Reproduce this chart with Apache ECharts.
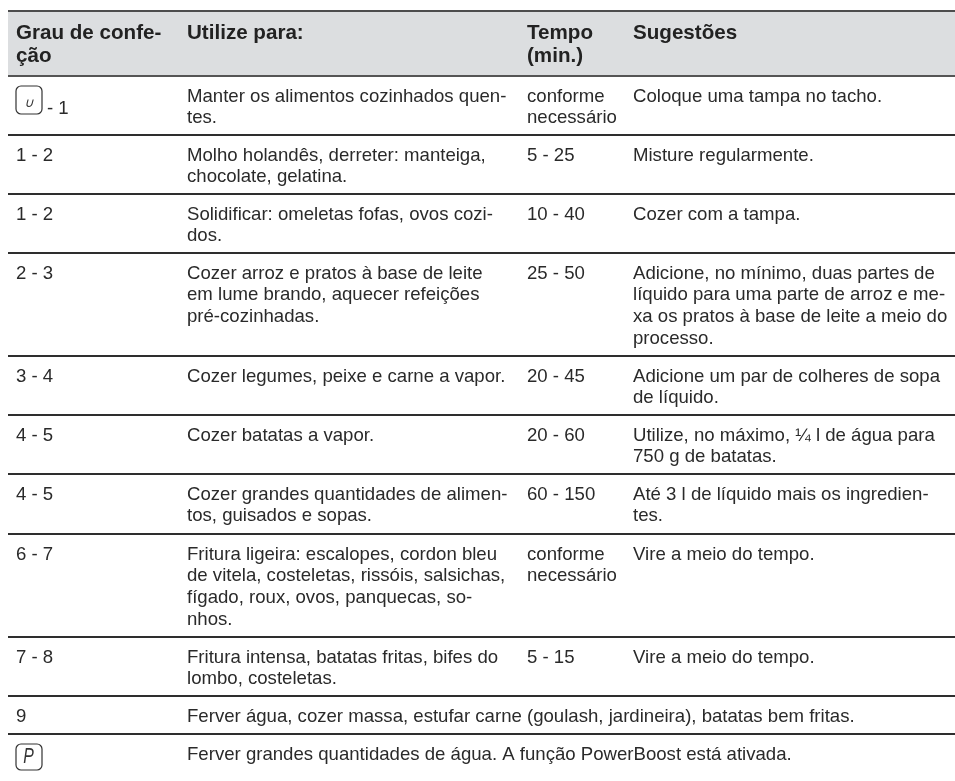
<!DOCTYPE html>
<html><head><meta charset="utf-8"><style>html,body{margin:0;padding:0;background:#fff}#c{width:955px;height:781px}</style>
<script src="https://cdn.jsdelivr.net/npm/echarts@6/dist/echarts.min.js"></script></head>
<body><div id="c"></div><script>
const headers = [["Grau de confe-","ção"],["Utilize para:"],["Tempo","(min.)"],["Sugestões"]];
const levels = [["- 1"],["1 - 2"],["1 - 2"],["2 - 3"],["3 - 4"],["4 - 5"],["4 - 5"],["6 - 7"],["7 - 8"],["9"],[""]];
const levelIcons = ["u","","","","","","","","","","P"];
const uses = [
 ["Manter os alimentos cozinhados quen-","tes."],
 ["Molho holandês, derreter: manteiga,","chocolate, gelatina."],
 ["Solidificar: omeletas fofas, ovos cozi-","dos."],
 ["Cozer arroz e pratos à base de leite","em lume brando, aquecer refeições","pré-cozinhadas."],
 ["Cozer legumes, peixe e carne a vapor."],
 ["Cozer batatas a vapor."],
 ["Cozer grandes quantidades de alimen-","tos, guisados e sopas."],
 ["Fritura ligeira: escalopes, cordon bleu","de vitela, costeletas, rissóis, salsichas,","fígado, roux, ovos, panquecas, so-","nhos."],
 ["Fritura intensa, batatas fritas, bifes do","lombo, costeletas."],
 ["Ferver água, cozer massa, estufar carne (goulash, jardineira), batatas bem fritas."],
 ["Ferver grandes quantidades de água. A função PowerBoost está ativada."]
];
const times = [["conforme","necessário"],["5 - 25"],["10 - 40"],["25 - 50"],["20 - 45"],["20 - 60"],["60 - 150"],["conforme","necessário"],["5 - 15"],[],[]];
const tips = [
 ["Coloque uma tampa no tacho."],["Misture regularmente."],["Cozer com a tampa."],
 ["Adicione, no mínimo, duas partes de","líquido para uma parte de arroz e me-","xa os pratos à base de leite a meio do","processo."],
 ["Adicione um par de colheres de sopa","de líquido."],
 ["Utilize, no máximo, ¼ l de água para","750 g de batatas."],
 ["Até 3 l de líquido mais os ingredien-","tes."],
 ["Vire a meio do tempo."],["Vire a meio do tempo."],[],[]
];
const FONT='"Liberation Sans",Arial,sans-serif';
const ruleYs=[76,135,194,253,356,415,474,534,637,696,734];
const colX=[16,187,527,633];
const LINE=21.7, FS=18.6, HFS=20.6;
const rows=[{h:true,cells:headers,top:11}];
levels.forEach((l,i)=>rows.push({h:false,cells:[l,uses[i],times[i],tips[i]],icon:levelIcons[i],top:ruleYs[i]}));
function renderItem(params,api){
  const r=rows[params.dataIndex], ch=[];
  const c=(x,y)=>api.coord([x,y]);
  if(r.h){
    const a=c(8,11),b=c(955,76);
    ch.push({type:'rect',shape:{x:a[0],y:a[1],width:b[0]-a[0],height:b[1]-a[1]},style:{fill:'#dcdee0'}});
  }
  const p0=c(8,r.top),p1=c(955,r.top);
  ch.push({type:'line',shape:{x1:p0[0],y1:p0[1],x2:p1[0],y2:p1[1]},style:{stroke:r.top===11?'#4d4d4d':(r.top===76?'#555':'#2e2e2e'),lineWidth:2}});
  r.cells.forEach((lines,ci)=>{
    lines.forEach((t,li)=>{
      if(!t) return;
      let x=colX[ci];
      if(r.icon&&ci===0) x=47;
      const base=r.top+(r.h?27:25)+li*(r.h?23:LINE);
      const p=c(x,(r.icon&&ci===0)?r.top+37:base);
      ch.push({type:'text',style:{x:p[0],y:p[1]-(r.h?15.5:14),text:t,fill:r.h?'#222':'#2a2a2a',
        font:(r.h?'bold ':'')+(r.h?HFS:FS)+'px '+FONT,textAlign:'left',textVerticalAlign:'top'}});
    });
  });
  if(r.icon){
    const isU=r.icon==='u', top=isU?86:744, hh=isU?28:26;
    const a=c(16,top),b=c(42,top+hh);
    ch.push({type:'rect',shape:{x:a[0],y:a[1],width:b[0]-a[0],height:b[1]-a[1],r:5},style:{fill:'#fff',stroke:'#333',lineWidth:1.2}});
    const m=c(28.5,top+hh/2+(isU?3:0));
    ch.push({type:'text',x:m[0],y:m[1],scaleX:isU?1:0.72,scaleY:1,style:{x:0,y:0,text:isU?'∪':'P',fill:'#333',
      font:'italic '+(isU?13:22)+'px '+FONT,textAlign:'center',textVerticalAlign:'middle'}});
  }
  return {type:'group',children:ch};
}
const chart=echarts.init(document.getElementById('c'),null,{renderer:'canvas'});
chart.setOption({
  animation:false,backgroundColor:'#fff',
  grid:{left:0,right:0,top:0,bottom:0},
  xAxis:{type:'value',min:0,max:955,show:false},
  yAxis:{type:'value',min:0,max:781,inverse:true,show:false},
  series:[{type:'custom',coordinateSystem:'cartesian2d',renderItem,clip:false,silent:true,
    data:rows.map((r,i)=>[i,r.top])}]
});
</script></body></html>
